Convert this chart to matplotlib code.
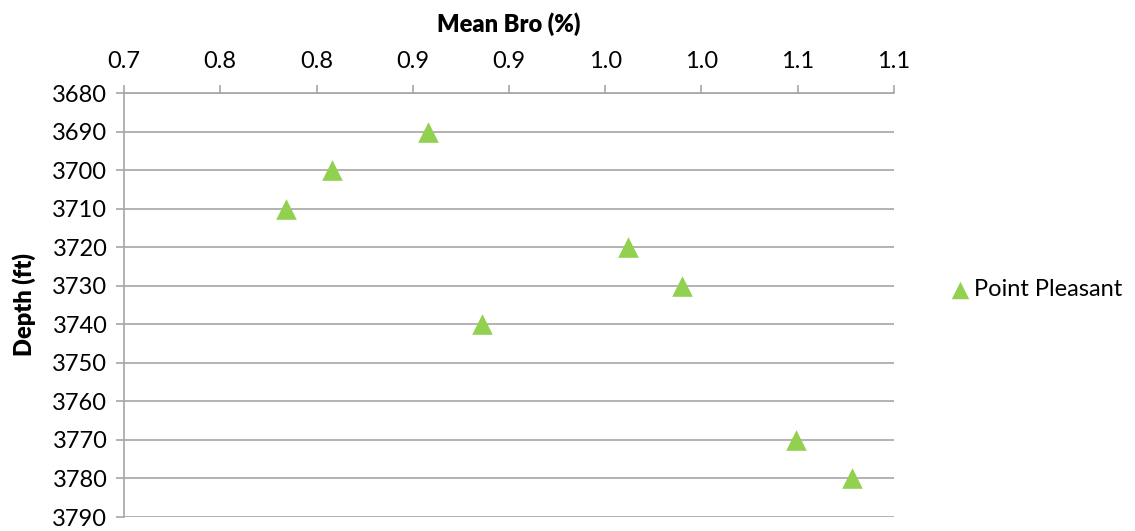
import matplotlib
matplotlib.use("Agg")
import matplotlib.pyplot as plt
from matplotlib.ticker import FixedLocator, FixedFormatter

plt.rcParams['font.family'] = ['Lato', 'DejaVu Sans']

depth = [3690, 3700, 3710, 3720, 3730, 3740, 3770, 3780]
mean_bro = [0.858, 0.808, 0.784, 0.962, 0.990, 0.886, 1.049, 1.078]
series_name = "Point Pleasant"
x_ticks = [0.70, 0.75, 0.80, 0.85, 0.90, 0.95, 1.00, 1.05, 1.10]
x_labels = ["0.7", "0.8", "0.8", "0.9", "0.9", "1.0", "1.0", "1.1", "1.1"]
y_ticks = list(range(3680, 3791, 10))

fig = plt.figure(figsize=(11.35, 5.31), dpi=100)
ax = fig.add_axes([124/1135, 1-517/531, (894-124)/1135, (517-93)/531])

grey = '#a6a6a6'
ax.scatter(mean_bro, depth, marker='^', s=220, color='#92d050', zorder=3,
           label=series_name, linewidths=0)
ax.set_xlim(0.70, 1.10)
ax.set_ylim(3790, 3680)
ax.xaxis.set_major_locator(FixedLocator(x_ticks))
ax.xaxis.set_major_formatter(FixedFormatter(x_labels))
ax.set_yticks(y_ticks)
ax.xaxis.tick_top()
ax.xaxis.set_label_position('top')
ax.yaxis.grid(True, color=grey, linewidth=1.2)
ax.set_axisbelow(True)
for s in ['right', 'bottom']:
    ax.spines[s].set_visible(False)
for s in ['left', 'top']:
    ax.spines[s].set_color(grey)
    ax.spines[s].set_linewidth(1.2)
ax.tick_params(axis='x', direction='out', length=6, color=grey, width=1.2,
               labelsize=17, pad=9)
ax.tick_params(axis='y', direction='out', length=6, color=grey, width=1.2,
               labelsize=17, pad=6)
ax.set_xlabel('Mean Bro (%)', fontsize=17, fontweight='heavy', labelpad=14)
ax.set_ylabel('Depth (ft)', fontsize=17, fontweight='heavy', labelpad=12)

fig.legend(loc='center left', bbox_to_anchor=(946/1135, 1-290/531), frameon=False,
           fontsize=17, handletextpad=0.0, handlelength=1.2, markerscale=0.85,
           borderpad=0, borderaxespad=0)

fig.savefig('out.png', dpi=100)
